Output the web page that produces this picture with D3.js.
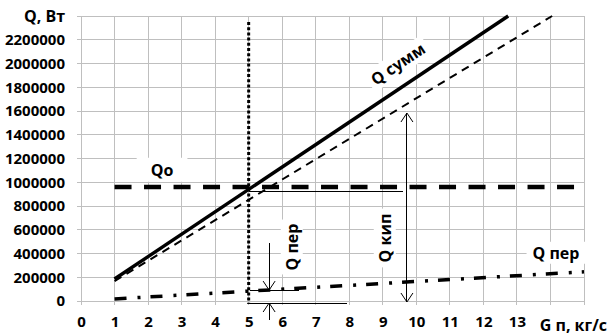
<!DOCTYPE html>
<html>
<head>
<meta charset="utf-8">
<script src="https://cdn.jsdelivr.net/npm/d3@7"></script>
<style>
  html, body { margin: 0; padding: 0; background: #fff; }
  svg { display: block; font-family: "Open Sans", "DejaVu Sans", sans-serif; font-weight: bold; }
</style>
</head>
<body>
<svg id="chart" width="609" height="336"></svg>
<script>
// Axis ticks
const xTicks = [0, 1, 2, 3, 4, 5, 6, 7, 8, 9, 10, 11, 12, 13, 14, 15];
const xTickLabels = ["0", "1", "2", "3", "4", "5", "6", "7", "8", "9", "10", "11", "12", "13", "", ""];
const yTicks = [0, 200000, 400000, 600000, 800000, 1000000, 1200000, 1400000, 1600000, 1800000, 2000000, 2200000, 2400000];
const yTickLabels = ["0", "200000", "400000", "600000", "800000", "1000000", "1200000", "1400000", "1600000", "1800000", "2000000", "2200000", ""];

// Series: steam flow G п (kg/s) against heat Q (W)
const qSummG = [1, 12.74];
const qSummQ = [185000, 2400000];
const qKipG = [1, 14.05];
const qKipQ = [168000, 2400000];
const qPerG = [1, 15];
const qPerQ = [17500, 246000];
const qoG = [1, 15];
const qoQ = [960000, 960000];

// Operating point and annotation values
const gWork = 5;
const gKipArrow = 9.72;
const qKipTop = 1583000;
const qKipRef = 926000;
const gPerArrow = 5.61;
const qPerRef = 92000;

const svg = d3.select("#chart");
const x = d3.scaleLinear().domain([0, 15]).range([81, 584]);
const y = d3.scaleLinear().domain([0, 2400000]).range([301, 16]);

const gridColor = "#bfbfbf";

// Grid
const grid = svg.append("g");
grid.selectAll("line.v").data(xTicks).join("line")
  .attr("x1", d => x(d)).attr("x2", d => x(d))
  .attr("y1", y(2400000)).attr("y2", y(0) + 4)
  .attr("stroke", gridColor).attr("stroke-width", 1).attr("shape-rendering", "crispEdges");
grid.selectAll("line.h").data(yTicks).join("line")
  .attr("x1", x(0) - 4).attr("x2", x(15))
  .attr("y1", d => y(d)).attr("y2", d => y(d))
  .attr("stroke", gridColor).attr("stroke-width", 1).attr("shape-rendering", "crispEdges");

// Axes (labels only; lines come from the grid)
const yAxis = svg.append("g").attr("transform", `translate(${x(0)},0)`)
  .call(d3.axisLeft(y).tickValues(yTicks).tickSize(0).tickPadding(16)
    .tickFormat((d, i) => yTickLabels[i]));
const xAxis = svg.append("g").attr("transform", `translate(0,${y(0)})`)
  .call(d3.axisBottom(x).tickValues(xTicks).tickSize(0).tickPadding(0)
    .tickFormat((d, i) => xTickLabels[i]));
[yAxis, xAxis].forEach(a => {
  a.select(".domain").remove();
  a.selectAll("text").attr("font-size", 15).attr("font-weight", "bold")
    .attr("font-family", "Open Sans").attr("fill", "#000");
});
xAxis.selectAll("text").attr("dy", null).attr("y", 26);

svg.append("text").attr("x", 65).attr("y", 22).attr("text-anchor", "end")
  .attr("font-size", 16).text("Q, Вт");
svg.append("text").attr("x", 607).attr("y", 331).attr("text-anchor", "end")
  .attr("font-size", 16).text("G п, кг/с");

const boxLayer = svg.append("g");
const lineLayer = svg.append("g");
const textLayer = svg.append("g");

const line = d3.line().x(d => x(d[0])).y(d => y(d[1]));
const pts = (g, q) => g.map((v, i) => [v, q[i]]);

// Vertical dotted line at the operating flow
lineLayer.append("line")
  .attr("x1", x(gWork)).attr("x2", x(gWork))
  .attr("y1", 22).attr("y2", y(0) + 3)
  .attr("stroke", "#000").attr("stroke-width", 3).attr("stroke-dasharray", "3,2.2");

lineLayer.append("path").datum(pts(qoG, qoQ)).attr("d", line)
  .attr("fill", "none").attr("stroke", "#000").attr("stroke-width", 4.5)
  .attr("stroke-dasharray", "17,12.5");
lineLayer.append("path").datum(pts(qKipG, qKipQ)).attr("d", line)
  .attr("fill", "none").attr("stroke", "#000").attr("stroke-width", 2)
  .attr("stroke-dasharray", "8,6");
lineLayer.append("path").datum(pts(qSummG, qSummQ)).attr("d", line)
  .attr("fill", "none").attr("stroke", "#000").attr("stroke-width", 3.4);
lineLayer.append("path").datum(pts(qPerG, qPerQ)).attr("d", line)
  .attr("fill", "none").attr("stroke", "#000").attr("stroke-width", 3.5)
  .attr("stroke-dasharray", "12,11,3,10");

// Thin annotation lines and arrows
function seg(x1, y1, x2, y2, crisp) {
  const l = lineLayer.append("line").attr("x1", x1).attr("y1", y1).attr("x2", x2).attr("y2", y2)
    .attr("stroke", "#000").attr("stroke-width", 1);
  if (crisp) l.attr("shape-rendering", "crispEdges");
}
function head(px, py, dir) { // dir = -1 points up, +1 points down
  seg(px, py, px - 6, py - dir * 9);
  seg(px, py, px + 6, py - dir * 9);
}
seg(x(gWork), y(qKipRef), x(gKipArrow) - 4, y(qKipRef), true);
const ka = x(gKipArrow);
seg(ka, y(qKipTop), ka, y(0) + 1, true);
head(ka, y(qKipTop), -1);
head(ka, y(0) + 1, 1);

const pa = x(gPerArrow);
const yPer = y(qPerRef);
seg(x(gWork) + 1, yPer, x(6.5), yPer, true);
seg(x(gWork) + 1, y(0) + 2, x(7.93), y(0) + 2, true);
seg(pa, 243, pa, yPer, true);
head(pa, yPer, 1);
seg(pa, y(0) + 2, pa, 320, true);
head(pa, y(0) + 2, -1);

// Labels with white backgrounds
function label(txt, cx, cy, angle, padX, padY) {
  const tr = `translate(${cx},${cy}) rotate(${angle})`;
  const t = textLayer.append("text").attr("transform", tr)
    .attr("text-anchor", "middle").attr("dy", "0.36em")
    .attr("font-size", 16).text(txt);
  const b = t.node().getBBox();
  boxLayer.append("rect").attr("transform", tr)
    .attr("x", b.x - padX).attr("y", b.y - padY)
    .attr("width", b.width + 2 * padX).attr("height", b.height + 2 * padY)
    .attr("fill", "#fff");
}
label("Qo", 162, 170, 0, 14, 1);
label("Q сумм", 398, 64, -34, 4, 0);
label("Q пер", 292, 247, -90, 4, 0);
label("Q кип", 385, 238, -90, 5, 0);
label("Q пер", 556, 253, 0, 6, 0);
</script>
</body>
</html>
